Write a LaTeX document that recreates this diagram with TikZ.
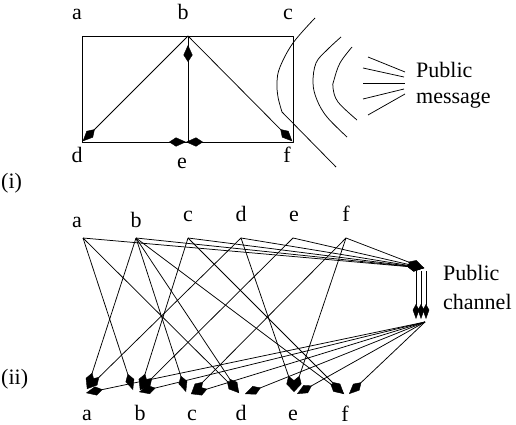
\documentclass[tikz,border=0pt]{standalone}
\usepackage{fontspec}
\setmainfont{Liberation Serif}
\usetikzlibrary{arrows.meta}
\begin{document}
\begin{tikzpicture}[x=1pt,y=-1pt,
  lbl/.style={anchor=base,inner sep=0pt,font=\fontsize{22}{26}\selectfont},
  lblw/.style={lbl,anchor=base west},
  wire/.style={line width=0.75pt,line join=round},
  arr/.style={wire,-{Kite[length=17pt,width=9pt,inset=7pt,line width=0.4pt]}},
  varr/.style={wire,-{Kite[length=15pt,width=6.5pt,inset=6pt,line width=0.4pt]}},
]
\useasboundingbox (0,0) rectangle (516,425);

% ---------- (i) broadcast inside a group ----------
\coordinate (A1) at (82,36);
\coordinate (B1) at (188,36);
\coordinate (C1) at (293,36);
\coordinate (D1) at (82,142);
\coordinate (E1) at (188,142);
\coordinate (F1) at (293,142);

\node[lbl] (la1) at (77,20) {a};
\node[lbl] (lb1) at (183,20) {b};
\node[lbl] (lc1) at (288,20) {c};
\node[lbl] (ld1) at (77,162) {d};
\node[lbl] (le1) at (182,168) {e};
\node[lbl] (lf1) at (287,162) {f};
\node[lblw] (li) at (1,188) {(i)};

\draw[wire] (A1) rectangle (F1);
\draw[arr,shorten >=1pt] (B1) -- (D1);
\draw[arr,shorten >=1pt] (B1) -- (F1);
\draw[wire] (E1) -- (B1);
\draw[arr,shorten >=9pt] (E1) -- (B1);
\draw[arr,shorten >=2pt] (D1) -- (E1);
\draw[arr,shorten >=-2pt] (F1) -- (E1);

% wave fronts of the public message
\draw[wire] plot[smooth,tension=0.6] coordinates {(315,18) (293,43) (280,67) (277,82) (278,97) (282,112)} -- (336,167);
\draw[wire] plot[smooth,tension=0.6] coordinates {(341,37) (327,50) (316,63) (313,83) (317,100) (327,117) (347,137)};
\draw[wire] plot[smooth,tension=0.6] coordinates {(352,47) (340,63) (334,80) (333,88) (338,102) (357,120)};

% rays
\draw[wire] (368,57) -- (405,72);
\draw[wire] (363,68) -- (404,77);
\draw[wire] (363,83) -- (405,83);
\draw[wire] (363,99) -- (404,89);
\draw[wire] (368,115) -- (405,94);

\node[lblw] (pm1) at (416,78) {Public};
\node[lblw] (pm2) at (416,104) {message};

% ---------- (ii) private links and a public channel ----------
\coordinate (TA) at (83,238);
\coordinate (TB) at (136,238);
\coordinate (TC) at (188,238);
\coordinate (TD) at (241,238);
\coordinate (TE) at (293,238);
\coordinate (TF) at (346,238);

\node[lbl] (la2) at (77,227) {a};
\node[lbl] (lb2) at (136,227) {b};
\node[lbl] (lc2) at (188,221) {c};
\node[lbl] (ld2) at (241,221) {d};
\node[lbl] (le2) at (294,221) {e};
\node[lbl] (lf2) at (346,221) {f};

% receiving ends (from above / from the channel)
\coordinate (BAu) at (87,389);  \coordinate (BAc) at (86,393);
\coordinate (BBa) at (133,390); \coordinate (BBr) at (140,390); \coordinate (BBc) at (139,392);
\coordinate (BCb) at (186,392); \coordinate (BCr) at (191,394);
\coordinate (BDu) at (239,393); \coordinate (BDc) at (245,394);
\coordinate (BEu) at (294,392); \coordinate (BEc) at (297,394);
\coordinate (BFu) at (344,394); \coordinate (BFc) at (349,394);

\node[lbl] (la3) at (87,420) {a};
\node[lbl] (lb3) at (140,420) {b};
\node[lbl] (lc3) at (192,420) {c};
\node[lbl] (ld3) at (241,420) {d};
\node[lbl] (le3) at (293,420) {e};
\node[lbl] (lf3) at (345,421) {f};
\node[lblw] (lii) at (1,384) {(ii)};

% private links
\draw[arr] (TA) -- (BBa);
\draw[arr] (TA) -- (BDu);
\draw[arr] (TB) -- (BAu);
\draw[arr] (TB) -- (BCb);
\draw[arr] (TB) -- (BDu);
\draw[arr] (TB) -- (BFu);
\draw[arr] (TC) -- (BBr);
\draw[arr] (TC) -- (BFu);
\draw[arr] (TD) -- (BAu);
\draw[arr] (TD) -- (BEu);
\draw[arr] (TE) -- (BBr);
\draw[arr] (TF) -- (BCr);
\draw[arr] (TF) -- (BEu);

% public channel
\coordinate (CI) at (424,268);
\coordinate (CO) at (425,322);
\coordinate (V1) at (416,271); \coordinate (W1) at (416,319);
\coordinate (V2) at (421,271); \coordinate (W2) at (421,319);
\coordinate (V3) at (426,271); \coordinate (W3) at (426,319);

\foreach \t in {TA,TB,TC,TD,TE,TF}
  \draw[arr] (\t) -- (CI);
\draw[varr] (V1) -- (W1);
\draw[varr] (V2) -- (W2);
\draw[varr] (V3) -- (W3);
\foreach \b in {BAc,BBc,BCr,BDc,BEc,BFc}
  \draw[arr] (CO) -- (\b);

\node[lblw] (pc1) at (443,280) {Public};
\node[lblw] (pc2) at (443,309) {channel};
\end{tikzpicture}
\end{document}
